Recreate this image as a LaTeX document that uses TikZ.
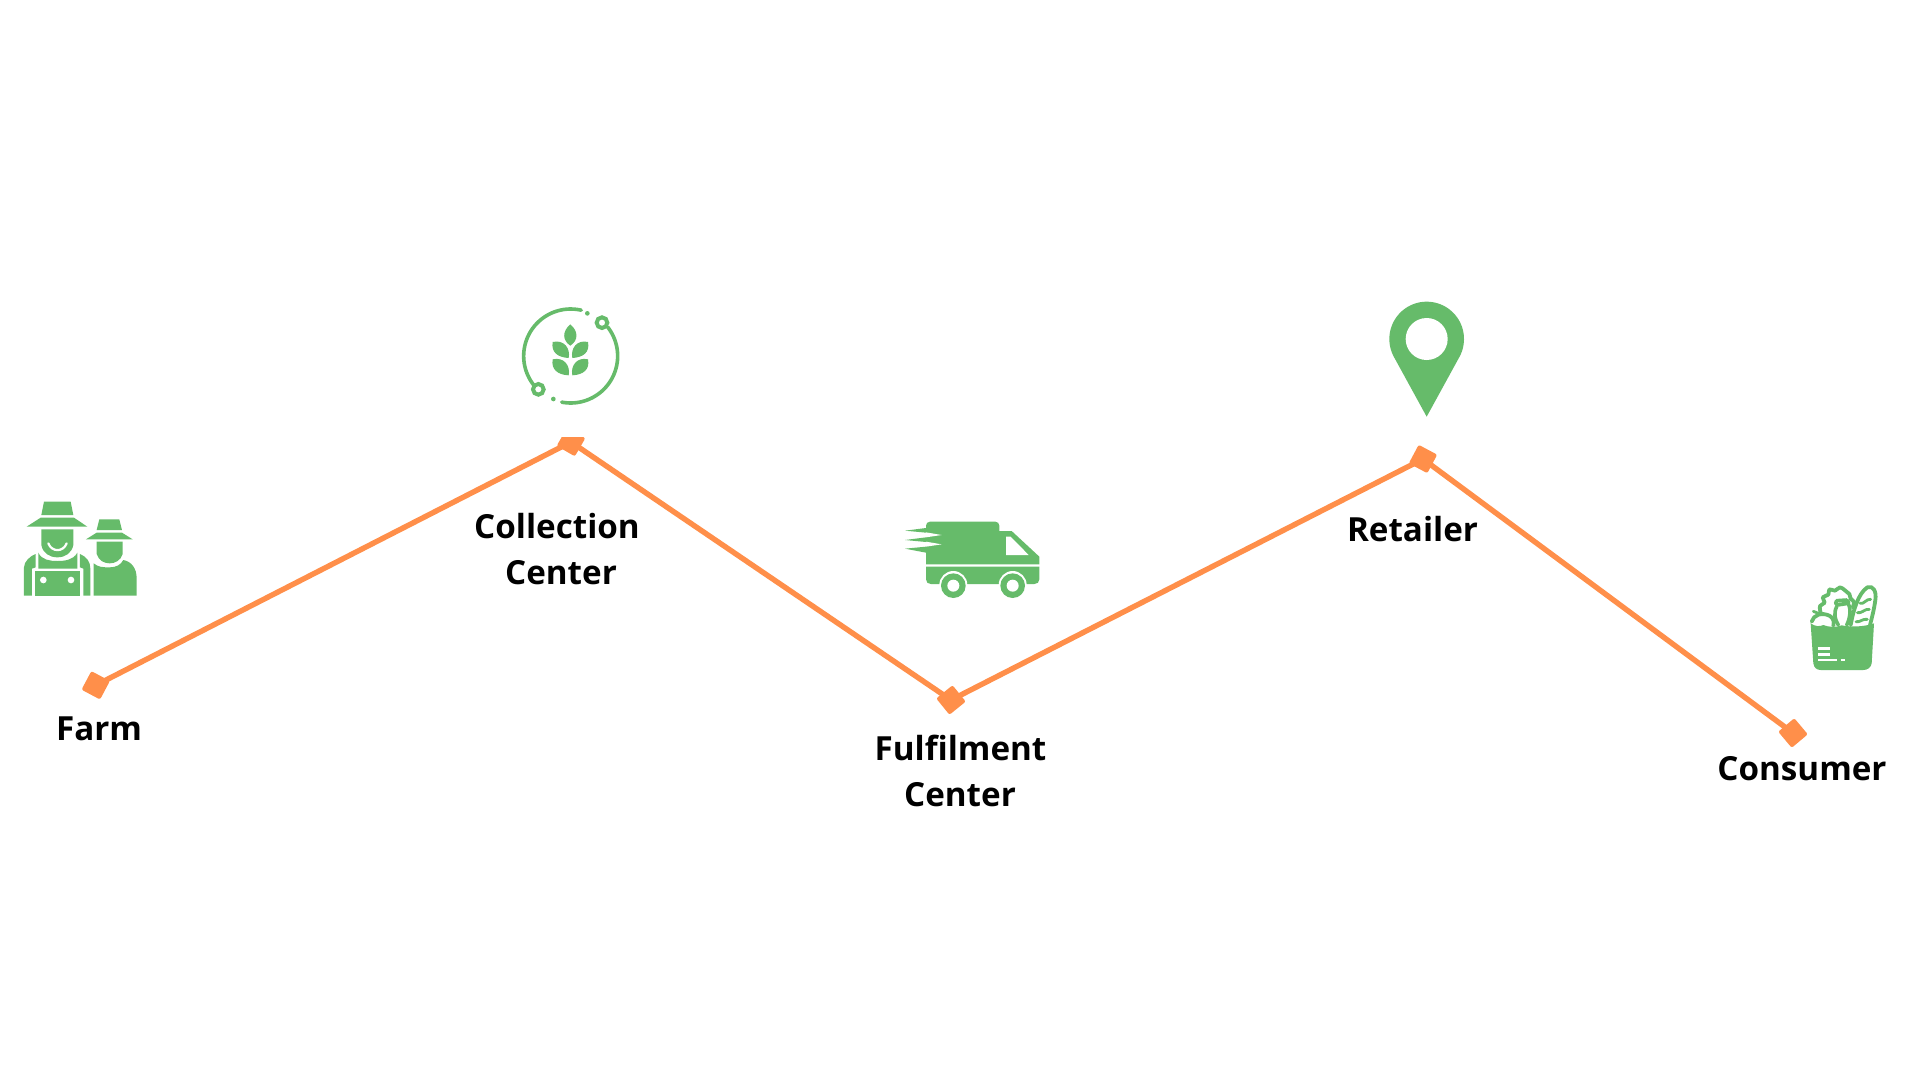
\documentclass[tikz,border=0pt]{standalone}
\usepackage{fontspec}
\setmainfont{Open Sans}
\definecolor{leaf}{HTML}{66BB6A}
\definecolor{route}{HTML}{FF8F4A}
\tikzset{
 stopmark/.style={draw=none,fill=route,minimum width=21pt,minimum height=21pt,inner sep=0pt,rounded corners=2pt},
 routeline/.style={draw=route,line width=5.4pt},
 lbl/.style={font=\fontsize{33.2}{33.2}\selectfont\bfseries,text=black,anchor=base,inner sep=0pt},
 gp/.style={fill=leaf,draw=none},
 wp/.style={fill=white,draw=none},
 gl/.style={draw=leaf,line cap=round,line join=round},
 zoomed/.style={x=0.33333pt,y=-0.33333pt},
}
\begin{document}
\begin{tikzpicture}[x=1pt,y=-1pt]
\useasboundingbox[fill=white] (0,0) rectangle (1920,1080);
% stops
\node[stopmark,rotate=-28] (farm) at (95.7,685.3) {};
\node[stopmark,rotate=-30] (collect) at (571,442) {};
\node[stopmark,rotate=39] (fulfil) at (951,700) {};
\node[stopmark,rotate=-28] (retail) at (1423,459) {};
\node[stopmark,rotate=40] (consumer) at (1793,733) {};
\draw[routeline] (farm.center) -- (collect.center) -- (fulfil.center) -- (retail.center) -- (consumer.center);
\fill[white] (530,417) rectangle (610,437);
% labels
\node[lbl] (t1) at (99,740) {Farm};
\node[lbl] (t2a) at (557,538) {Collection};
\node[lbl] (t2b) at (561,584) {Center};
\node[lbl] (t3a) at (960.5,760) {Fulfilment};
\node[lbl] (t3b) at (960,806) {Center};
\node[lbl] (t4) at (1412.5,541) {Retailer};
\node[lbl] (t5) at (1802,780) {Consumer};
% farmers
\begin{scope}[zoomed,shift={(0pt,-480pt)}]
\path[gp] (132,65)--(212,65)--(220,105)--(124,105)--cycle;
\path[gp] (122,113)--(222,113)--(262,140)--(80,140)--cycle;
\path[gp] (124,148)--(220,148)--(220,195) .. controls (215,220) and (195,232) .. (172,232) .. controls (149,232) and (129,220) .. (124,195)--cycle;
\draw[white,line width=2.2pt,line cap=round] (145,190) .. controls (155,217) and (190,217) .. (200,190);
\path[gp] (72,347)--(72,262) .. controls (72,245) and (90,228) .. (107,222)--(107,262)--(96,266)--(96,347)--cycle;
\path[gp] (115,218) .. controls (125,240) and (150,243) .. (172,243) .. controls (195,243) and (220,240) .. (232,218)--(232,266)--(115,266)--cycle;
\path[gp] (105,272)--(241,272)--(241,347)--(105,347)--cycle;
\path[wp] (130,300) circle[radius=10];\path[wp] (213,300) circle[radius=10];
\path[gp] (240,222) .. controls (260,230) and (271,245) .. (271,265)--(271,347)--(250,347)--(250,266)--(240,262)--cycle;
\path[gp] (298,118)--(358,118)--(366,150)--(290,150)--cycle;
\path[gp] (290,158)--(366,158)--(398,178)--(258,178)--cycle;
\path[gp] (290,185)--(368,185)--(368,222) .. controls (362,242) and (345,250) .. (329,250) .. controls (313,250) and (296,242) .. (290,222)--cycle;
\path[gp] (281,347)--(281,250) .. controls (295,262) and (310,262) .. (329,262) .. controls (348,262) and (362,255) .. (370,240) .. controls (395,245) and (410,265) .. (410,295)--(410,347)--cycle;
\end{scope}
% grain
\begin{scope}[zoomed,shift={(500pt,-290pt)}]
\draw[gl,line width=3.6pt] plot[domain=-77:-226,samples=50] ({212+141*cos(\x)},{198+141*sin(\x)});
\draw[gl,line width=3.6pt] plot[domain=-38:101,samples=40] ({212+141*cos(\x)},{198+141*sin(\x)});
\path[draw=leaf,fill=white,line width=4pt] (306,98) circle[radius=16];
\path[draw=leaf,fill=white,line width=4pt] (115,298) circle[radius=16];
\path[gp] (262,70) circle[radius=7];\path[gp] (160,327) circle[radius=7];
\path[gp] (211,103) .. controls (237,125) and (234,152) .. (211,167) .. controls (188,152) and (185,125) .. (211,103)--cycle;
\path[gp] (158,156) .. controls (192,148) and (212,175) .. (206,204) .. controls (173,202) and (153,187) .. (158,156)--cycle;
\path[gp] (264,156) .. controls (231,148) and (211,175) .. (217,204) .. controls (250,202) and (270,187) .. (264,156)--cycle;
\path[gp] (158,208) .. controls (192,200) and (212,227) .. (206,256) .. controls (173,254) and (153,239) .. (158,208)--cycle;
\path[gp] (264,208) .. controls (231,200) and (211,227) .. (217,256) .. controls (250,254) and (270,239) .. (264,208)--cycle;
\end{scope}
% truck
\begin{scope}[zoomed,shift={(890pt,-500pt)}]
\path[gp] (108,77) .. controls (108,70) and (113,65) .. (120,65)--(316,65) .. controls (323,65) and (328,70) .. (328,77)--(328,93)--(365,93)--(448,170)--(448,193)--(108,193)--cycle;
\path[wp] (108,97)--(155,105)--(108,112)--cycle;
\path[wp] (108,125)--(155,133)--(108,140)--cycle;
\path[gp] (45,92)--(108,84)--(108,98)--cycle;
\path[gp] (45,120)--(108,112)--(108,126)--cycle;
\path[gp] (45,146)--(108,140)--(108,158)--cycle;
\path[wp] (348,110)--(362,110)--(416,165)--(348,165)--cycle;
\path[gp] (108,200)--(448,200)--(448,238) .. controls (448,247) and (442,252) .. (433,252)--(123,252) .. controls (114,252) and (108,247) .. (108,238)--cycle;
\path[wp] (190,255) circle[radius=42];\path[wp] (368,255) circle[radius=42];
\path[gp] (190,257) circle[radius=37];\path[gp] (368,257) circle[radius=37];
\path[wp] (190,257) circle[radius=18];\path[wp] (368,257) circle[radius=18];
\end{scope}
% pin
\begin{scope}[zoomed,shift={(1370pt,-290pt)}]
\path[gp] (170,380) -- plot[domain=151.5:388.5,samples=60] ({170+112*cos(\x)},{147+112*sin(\x)}) -- cycle;
\path[wp] (170,147) circle[radius=63];
\end{scope}
% bag
\begin{scope}[zoomed,shift={(1780pt,-570pt)}]
\path[gp] (92,160) .. controls (105,170) and (120,170) .. (130,165) .. controls (145,172) and (170,172) .. (185,166) .. controls (215,172) and (255,170) .. (282,160)--(275,280) .. controls (273,293) and (262,300) .. (250,300)--(122,300) .. controls (110,300) and (102,293) .. (100,280)--cycle;
\draw[gl,line width=3.8pt] (95,155) .. controls (100,135) and (125,125) .. (150,138) .. controls (160,145) and (163,155) .. (160,167);
\draw[gl,line width=2.8pt] (120,132) -- (100,124);
\draw[gl,line width=3.8pt] plot[smooth,tension=0.7] coordinates {(122,128) (120,108) (134,98) (128,82) (145,74) (148,58) (165,62) (180,52) (196,62) (208,72) (212,86) (222,96) (218,112)};
\draw[gl,line width=3.6pt] (170,92) -- (200,90) (172,105) -- (205,100) (170,92) .. controls (165,98) and (166,102) .. (172,105) (200,90) .. controls (206,94) and (207,98) .. (205,100) (170,110) .. controls (160,130) and (165,150) .. (175,165) (205,102) .. controls (215,120) and (208,150) .. (200,165);
\draw[gl,line width=3.8pt] (212,165) .. controls (220,120) and (235,70) .. (262,52) .. controls (280,45) and (290,65) .. (286,90) .. controls (282,120) and (275,145) .. (270,165);
\draw[gl,line width=2.8pt] (240,100) .. controls (250,105) and (260,85) .. (272,88) (232,128) .. controls (245,132) and (255,115) .. (268,118) (228,155) .. controls (240,158) and (248,145) .. (262,148);
\draw[white,line width=2.6pt] (115,235)--(150,235) (115,253)--(150,253) (115,270)--(170,270) (182,270)--(195,270);
\end{scope}
\end{tikzpicture}
\end{document}
